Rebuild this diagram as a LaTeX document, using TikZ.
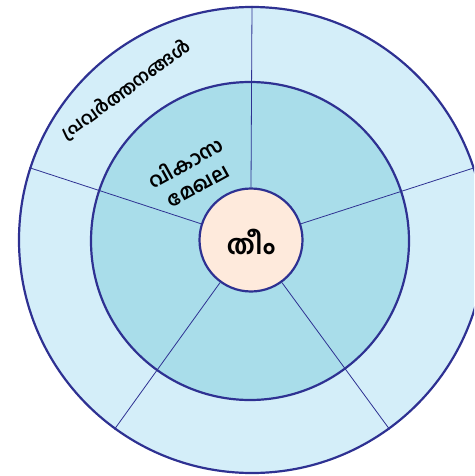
\documentclass[tikz,border=0pt]{standalone}
\usepackage{fontspec}
\newfontfamily\mlfont[Script=Malayalam]{Hind Kochi}
\definecolor{ringline}{HTML}{2E3192}
\definecolor{outerfill}{HTML}{D4EEF9}
\definecolor{midfill}{HTML}{A9DDEA}
\definecolor{corefill}{HTML}{FEEADC}
\begin{document}
\begin{tikzpicture}[x=1pt,y=-1pt,
  ring/.style={circle,draw=ringline,line width=2.2pt,inner sep=0pt},
  spoke/.style={draw=ringline,line width=0.8pt},
  label/.style={text=black,inner sep=0pt}]
\useasboundingbox (0,0) rectangle (474,476);
\begin{scope}
\clip (0,0) rectangle (474,476);
\node[ring,fill=outerfill,minimum size=466pt] (outer) at (252,240) {};
\node[ring,fill=midfill,minimum size=318pt] (mid) at (250,241) {};
\node[ring,fill=corefill,minimum size=103pt] (core) at (251,240) {};
\foreach \a in {90,162,234,306,18}{
  \draw[spoke] (core.\a) -- (outer.\a);
}
\end{scope}
\node[label,font=\mlfont\bfseries\fontsize{18}{22}\selectfont,rotate=36] (act) at (126,90) {പ്രവർത്തനങ്ങൾ};
\node[label,align=center,font=\mlfont\bfseries\fontsize{20}{25}\selectfont,rotate=29] (dev) at (191,173) {വികാസ\\മേഖല};
\node[label,font=\mlfont\bfseries\fontsize{27}{30}\selectfont] (theme) at (251,242) {തീം};
\end{tikzpicture}
\end{document}
